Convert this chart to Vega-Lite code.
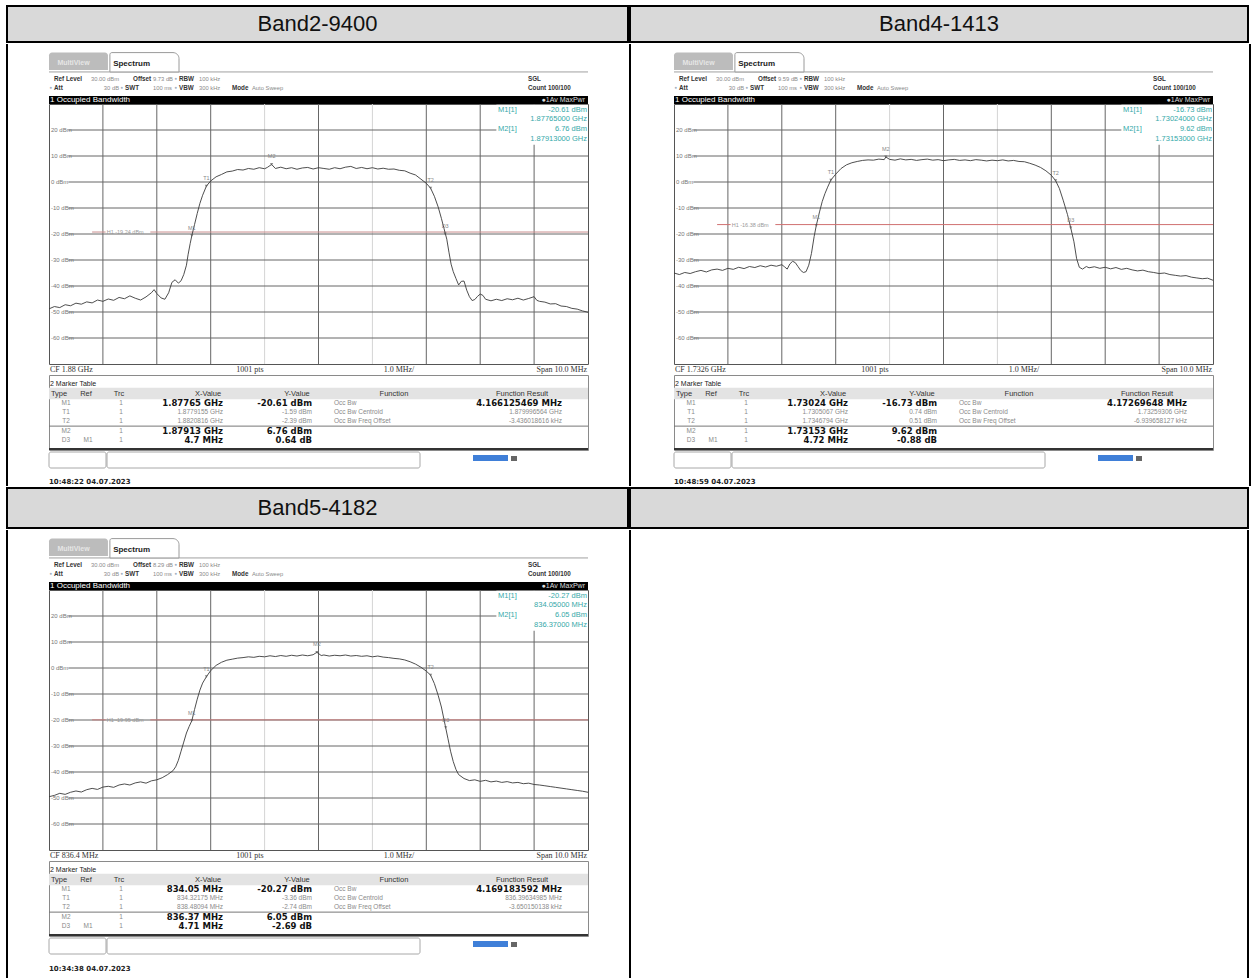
{
"$schema":"https://vega.github.io/schema/vega-lite/v6.json",
"background":"white",
"padding":{"left":6,"top":5,"right":0,"bottom":0},
"config":{"view":{"stroke":null},"concat":{"spacing":0},"text":{"font":"Liberation Sans"}},
"datasets":{
"lv":[{"lvl":20,"label":"20 dBm"},{"lvl":10,"label":"10 dBm"},{"lvl":0,"label":"0 dBm"},{"lvl":-10,"label":"-10 dBm"},{"lvl":-20,"label":"-20 dBm"},{"lvl":-30,"label":"-30 dBm"},{"lvl":-40,"label":"-40 dBm"},{"lvl":-50,"label":"-50 dBm"},{"lvl":-60,"label":"-60 dBm"}],
"xd":[{"d":-4},{"d":-3},{"d":-2},{"d":-1},{"d":0},{"d":1},{"d":2},{"d":3},{"d":4}],
"h1":[{"p":1,"level":-19.24,"label":"H1 -19.24 dBm"},{"p":2,"level":-16.38,"label":"H1 -16.38 dBm"},{"p":3,"level":-19.95,"label":"H1 -19.95 dBm"}],
"mk":[
{"p":1,"m":"M1","f":-2.35,"v":-20.61},{"p":1,"m":"T1","f":-2.08,"v":-1.59},{"p":1,"m":"T2","f":2.08,"v":-2.39},{"p":1,"m":"M2","f":-0.87,"v":6.76},{"p":1,"m":"D3","f":2.35,"v":-19.97},
{"p":2,"m":"M1","f":-2.36,"v":-16.73},{"p":2,"m":"T1","f":-2.09,"v":0.74},{"p":2,"m":"T2","f":2.08,"v":0.51},{"p":2,"m":"M2","f":-1.07,"v":9.62},{"p":2,"m":"D3","f":2.36,"v":-17.61},
{"p":3,"m":"M1","f":-2.35,"v":-20.27},{"p":3,"m":"T1","f":-2.08,"v":-3.36},{"p":3,"m":"T2","f":2.08,"v":-2.74},{"p":3,"m":"M2","f":-0.03,"v":6.05},{"p":3,"m":"D3","f":2.36,"v":-22.96}],
"info":[
{"p":1,"line":1,"name":"M1[1]","val":"-20.61 dBm"},{"p":1,"line":2,"name":"","val":"1.87765000 GHz"},{"p":1,"line":3,"name":"M2[1]","val":"6.76 dBm"},{"p":1,"line":4,"name":"","val":"1.87913000 GHz"},
{"p":2,"line":1,"name":"M1[1]","val":"-16.73 dBm"},{"p":2,"line":2,"name":"","val":"1.73024000 GHz"},{"p":2,"line":3,"name":"M2[1]","val":"9.62 dBm"},{"p":2,"line":4,"name":"","val":"1.73153000 GHz"},
{"p":3,"line":1,"name":"M1[1]","val":"-20.27 dBm"},{"p":3,"line":2,"name":"","val":"834.05000 MHz"},{"p":3,"line":3,"name":"M2[1]","val":"6.05 dBm"},{"p":3,"line":4,"name":"","val":"836.37000 MHz"}],
"set":[
{"p":0,"row":1,"slot":1,"kind":"label","text":"Ref Level"},
{"p":0,"row":1,"slot":2,"kind":"value","text":"30.00 dBm"},
{"p":0,"row":1,"slot":4,"kind":"label","text":"Offset"},
{"p":0,"row":1,"slot":6,"kind":"dot","text":"●"},
{"p":0,"row":1,"slot":6,"kind":"label","text":"RBW"},
{"p":0,"row":1,"slot":7,"kind":"value","text":"100 kHz"},
{"p":0,"row":1,"slot":10,"kind":"label","text":"SGL"},
{"p":0,"row":2,"slot":1,"kind":"dot","text":"●"},
{"p":0,"row":2,"slot":1,"kind":"label","text":"Att"},
{"p":0,"row":2,"slot":2,"kind":"value","text":"30 dB"},
{"p":0,"row":2,"slot":3,"kind":"dot","text":"●"},
{"p":0,"row":2,"slot":3,"kind":"label","text":"SWT"},
{"p":0,"row":2,"slot":5,"kind":"value","text":"100 ms"},
{"p":0,"row":2,"slot":6,"kind":"dot","text":"●"},
{"p":0,"row":2,"slot":6,"kind":"label","text":"VBW"},
{"p":0,"row":2,"slot":7,"kind":"value","text":"300 kHz"},
{"p":0,"row":2,"slot":8,"kind":"label","text":"Mode"},
{"p":0,"row":2,"slot":9,"kind":"value","text":"Auto Sweep"},
{"p":0,"row":2,"slot":10,"kind":"label","text":"Count 100/100"},
{"p":1,"row":1,"slot":5,"kind":"value","text":"9.73 dB"},
{"p":2,"row":1,"slot":5,"kind":"value","text":"9.59 dB"},
{"p":3,"row":1,"slot":5,"kind":"value","text":"8.29 dB"}],
"foot":[
{"p":1,"slot":1,"text":"CF 1.88 GHz"},{"p":2,"slot":1,"text":"CF 1.7326 GHz"},{"p":3,"slot":1,"text":"CF 836.4 MHz"},
{"p":0,"slot":2,"text":"1001 pts"},{"p":0,"slot":3,"text":"1.0 MHz/"},{"p":0,"slot":4,"text":"Span 10.0 MHz"}],
"tbl":[
{"p":0,"r":-1,"c":0,"text":"2 Marker Table"},
{"p":0,"r":0,"c":1,"text":"Type"},{"p":0,"r":0,"c":2,"text":"Ref"},{"p":0,"r":0,"c":3,"text":"Trc"},{"p":0,"r":0,"c":4,"text":"X-Value"},{"p":0,"r":0,"c":5,"text":"Y-Value"},{"p":0,"r":0,"c":6,"text":"Function"},{"p":0,"r":0,"c":7,"text":"Function Result"},
{"p":1,"r":1,"c":1,"text":"M1"},{"p":1,"r":1,"c":3,"text":"1"},{"p":1,"r":1,"c":4,"text":"1.87765 GHz"},{"p":1,"r":1,"c":5,"text":"-20.61 dBm"},{"p":1,"r":1,"c":6,"text":"Occ Bw"},{"p":1,"r":1,"c":7,"text":"4.166125469 MHz"},
{"p":1,"r":2,"c":1,"text":"T1"},{"p":1,"r":2,"c":3,"text":"1"},{"p":1,"r":2,"c":4,"text":"1.8779155 GHz"},{"p":1,"r":2,"c":5,"text":"-1.59 dBm"},{"p":1,"r":2,"c":6,"text":"Occ Bw Centroid"},{"p":1,"r":2,"c":7,"text":"1.879996564 GHz"},
{"p":1,"r":3,"c":1,"text":"T2"},{"p":1,"r":3,"c":3,"text":"1"},{"p":1,"r":3,"c":4,"text":"1.8820816 GHz"},{"p":1,"r":3,"c":5,"text":"-2.39 dBm"},{"p":1,"r":3,"c":6,"text":"Occ Bw Freq Offset"},{"p":1,"r":3,"c":7,"text":"-3.436018616 kHz"},
{"p":1,"r":4,"c":1,"text":"M2"},{"p":1,"r":4,"c":3,"text":"1"},{"p":1,"r":4,"c":4,"text":"1.87913 GHz"},{"p":1,"r":4,"c":5,"text":"6.76 dBm"},
{"p":1,"r":5,"c":1,"text":"D3"},{"p":1,"r":5,"c":2,"text":"M1"},{"p":1,"r":5,"c":3,"text":"1"},{"p":1,"r":5,"c":4,"text":"4.7 MHz"},{"p":1,"r":5,"c":5,"text":"0.64 dB"},
{"p":2,"r":1,"c":1,"text":"M1"},{"p":2,"r":1,"c":3,"text":"1"},{"p":2,"r":1,"c":4,"text":"1.73024 GHz"},{"p":2,"r":1,"c":5,"text":"-16.73 dBm"},{"p":2,"r":1,"c":6,"text":"Occ Bw"},{"p":2,"r":1,"c":7,"text":"4.17269648 MHz"},
{"p":2,"r":2,"c":1,"text":"T1"},{"p":2,"r":2,"c":3,"text":"1"},{"p":2,"r":2,"c":4,"text":"1.7305067 GHz"},{"p":2,"r":2,"c":5,"text":"0.74 dBm"},{"p":2,"r":2,"c":6,"text":"Occ Bw Centroid"},{"p":2,"r":2,"c":7,"text":"1.73259306 GHz"},
{"p":2,"r":3,"c":1,"text":"T2"},{"p":2,"r":3,"c":3,"text":"1"},{"p":2,"r":3,"c":4,"text":"1.7346794 GHz"},{"p":2,"r":3,"c":5,"text":"0.51 dBm"},{"p":2,"r":3,"c":6,"text":"Occ Bw Freq Offset"},{"p":2,"r":3,"c":7,"text":"-6.939658127 kHz"},
{"p":2,"r":4,"c":1,"text":"M2"},{"p":2,"r":4,"c":3,"text":"1"},{"p":2,"r":4,"c":4,"text":"1.73153 GHz"},{"p":2,"r":4,"c":5,"text":"9.62 dBm"},
{"p":2,"r":5,"c":1,"text":"D3"},{"p":2,"r":5,"c":2,"text":"M1"},{"p":2,"r":5,"c":3,"text":"1"},{"p":2,"r":5,"c":4,"text":"4.72 MHz"},{"p":2,"r":5,"c":5,"text":"-0.88 dB"},
{"p":3,"r":1,"c":1,"text":"M1"},{"p":3,"r":1,"c":3,"text":"1"},{"p":3,"r":1,"c":4,"text":"834.05 MHz"},{"p":3,"r":1,"c":5,"text":"-20.27 dBm"},{"p":3,"r":1,"c":6,"text":"Occ Bw"},{"p":3,"r":1,"c":7,"text":"4.169183592 MHz"},
{"p":3,"r":2,"c":1,"text":"T1"},{"p":3,"r":2,"c":3,"text":"1"},{"p":3,"r":2,"c":4,"text":"834.32175 MHz"},{"p":3,"r":2,"c":5,"text":"-3.36 dBm"},{"p":3,"r":2,"c":6,"text":"Occ Bw Centroid"},{"p":3,"r":2,"c":7,"text":"836.39634985 MHz"},
{"p":3,"r":3,"c":1,"text":"T2"},{"p":3,"r":3,"c":3,"text":"1"},{"p":3,"r":3,"c":4,"text":"838.48094 MHz"},{"p":3,"r":3,"c":5,"text":"-2.74 dBm"},{"p":3,"r":3,"c":6,"text":"Occ Bw Freq Offset"},{"p":3,"r":3,"c":7,"text":"-3.650150138 kHz"},
{"p":3,"r":4,"c":1,"text":"M2"},{"p":3,"r":4,"c":3,"text":"1"},{"p":3,"r":4,"c":4,"text":"836.37 MHz"},{"p":3,"r":4,"c":5,"text":"6.05 dBm"},
{"p":3,"r":5,"c":1,"text":"D3"},{"p":3,"r":5,"c":2,"text":"M1"},{"p":3,"r":5,"c":3,"text":"1"},{"p":3,"r":5,"c":4,"text":"4.71 MHz"},{"p":3,"r":5,"c":5,"text":"-2.69 dB"}],
"ts":[{"p":1,"text":"10:48:22  04.07.2023"},{"p":2,"text":"10:48:59  04.07.2023"},{"p":3,"text":"10:34:38  04.07.2023"}],
"trace":[
{"p":1,"f":-5.0,"v":-48.8},{"p":1,"f":-4.9,"v":-47.9},{"p":1,"f":-4.8,"v":-48.3},{"p":1,"f":-4.7,"v":-47.2},{"p":1,"f":-4.6,"v":-47.6},{"p":1,"f":-4.5,"v":-46.6},{"p":1,"f":-4.4,"v":-47.0},{"p":1,"f":-4.3,"v":-46.1},{"p":1,"f":-4.2,"v":-46.5},{"p":1,"f":-4.1,"v":-45.4},{"p":1,"f":-4.0,"v":-45.9},{"p":1,"f":-3.9,"v":-45.0},{"p":1,"f":-3.8,"v":-45.5},{"p":1,"f":-3.7,"v":-44.4},{"p":1,"f":-3.6,"v":-44.9},{"p":1,"f":-3.5,"v":-43.8},{"p":1,"f":-3.4,"v":-44.7},{"p":1,"f":-3.3,"v":-45.4},{"p":1,"f":-3.2,"v":-44.2},{"p":1,"f":-3.1,"v":-42.6},{"p":1,"f":-3.05,"v":-41.4},{"p":1,"f":-3.0,"v":-42.9},{"p":1,"f":-2.92,"v":-44.6},{"p":1,"f":-2.85,"v":-45.1},{"p":1,"f":-2.78,"v":-42.6},{"p":1,"f":-2.72,"v":-38.6},{"p":1,"f":-2.66,"v":-37.6},{"p":1,"f":-2.6,"v":-38.9},{"p":1,"f":-2.55,"v":-38.0},{"p":1,"f":-2.5,"v":-35.6},{"p":1,"f":-2.45,"v":-32.0},{"p":1,"f":-2.42,"v":-28.0},{"p":1,"f":-2.38,"v":-23.6},{"p":1,"f":-2.35,"v":-20.61},{"p":1,"f":-2.3,"v":-16.4},{"p":1,"f":-2.25,"v":-12.1},{"p":1,"f":-2.2,"v":-8.2},{"p":1,"f":-2.15,"v":-5.1},{"p":1,"f":-2.08,"v":-1.59},{"p":1,"f":-2.0,"v":0.4},{"p":1,"f":-1.9,"v":2.0},{"p":1,"f":-1.8,"v":2.9},{"p":1,"f":-1.7,"v":3.9},{"p":1,"f":-1.6,"v":4.2},{"p":1,"f":-1.5,"v":4.8},{"p":1,"f":-1.4,"v":4.6},{"p":1,"f":-1.3,"v":5.2},{"p":1,"f":-1.2,"v":4.9},{"p":1,"f":-1.1,"v":5.5},{"p":1,"f":-1.0,"v":5.1},{"p":1,"f":-0.95,"v":5.6},{"p":1,"f":-0.87,"v":6.76},{"p":1,"f":-0.8,"v":5.2},{"p":1,"f":-0.7,"v":5.7},{"p":1,"f":-0.6,"v":5.1},{"p":1,"f":-0.5,"v":5.5},{"p":1,"f":-0.4,"v":4.9},{"p":1,"f":-0.3,"v":5.4},{"p":1,"f":-0.2,"v":5.6},{"p":1,"f":-0.1,"v":5.0},{"p":1,"f":0.0,"v":5.5},{"p":1,"f":0.1,"v":5.2},{"p":1,"f":0.2,"v":4.9},{"p":1,"f":0.3,"v":5.5},{"p":1,"f":0.4,"v":5.1},{"p":1,"f":0.5,"v":5.7},{"p":1,"f":0.6,"v":6.0},{"p":1,"f":0.7,"v":5.2},{"p":1,"f":0.8,"v":5.6},{"p":1,"f":0.9,"v":5.1},{"p":1,"f":1.0,"v":5.5},{"p":1,"f":1.1,"v":5.0},{"p":1,"f":1.2,"v":5.3},{"p":1,"f":1.3,"v":4.9},{"p":1,"f":1.4,"v":5.0},{"p":1,"f":1.5,"v":4.5},{"p":1,"f":1.6,"v":4.3},{"p":1,"f":1.7,"v":3.4},{"p":1,"f":1.8,"v":2.7},{"p":1,"f":1.9,"v":1.1},{"p":1,"f":2.0,"v":-0.5},{"p":1,"f":2.08,"v":-2.39},{"p":1,"f":2.15,"v":-5.5},{"p":1,"f":2.22,"v":-9.6},{"p":1,"f":2.28,"v":-14.0},{"p":1,"f":2.33,"v":-18.0},{"p":1,"f":2.38,"v":-22.0},{"p":1,"f":2.42,"v":-27.0},{"p":1,"f":2.46,"v":-31.6},{"p":1,"f":2.5,"v":-34.5},{"p":1,"f":2.55,"v":-37.1},{"p":1,"f":2.6,"v":-39.6},{"p":1,"f":2.65,"v":-38.2},{"p":1,"f":2.7,"v":-38.1},{"p":1,"f":2.75,"v":-41.6},{"p":1,"f":2.8,"v":-44.1},{"p":1,"f":2.85,"v":-45.6},{"p":1,"f":2.9,"v":-45.2},{"p":1,"f":2.95,"v":-44.0},{"p":1,"f":3.0,"v":-43.1},{"p":1,"f":3.05,"v":-43.6},{"p":1,"f":3.1,"v":-45.1},{"p":1,"f":3.2,"v":-45.7},{"p":1,"f":3.3,"v":-45.1},{"p":1,"f":3.4,"v":-45.6},{"p":1,"f":3.5,"v":-44.9},{"p":1,"f":3.6,"v":-45.3},{"p":1,"f":3.7,"v":-44.7},{"p":1,"f":3.8,"v":-45.4},{"p":1,"f":3.9,"v":-44.8},{"p":1,"f":4.0,"v":-44.1},{"p":1,"f":4.05,"v":-45.5},{"p":1,"f":4.1,"v":-45.9},{"p":1,"f":4.2,"v":-46.2},{"p":1,"f":4.3,"v":-46.9},{"p":1,"f":4.4,"v":-46.8},{"p":1,"f":4.5,"v":-47.7},{"p":1,"f":4.6,"v":-47.9},{"p":1,"f":4.7,"v":-48.6},{"p":1,"f":4.8,"v":-48.9},{"p":1,"f":4.9,"v":-49.6},{"p":1,"f":5.0,"v":-50.1},
{"p":2,"f":-5.0,"v":-35.0},{"p":2,"f":-4.9,"v":-35.6},{"p":2,"f":-4.8,"v":-34.8},{"p":2,"f":-4.7,"v":-35.2},{"p":2,"f":-4.6,"v":-34.5},{"p":2,"f":-4.5,"v":-34.0},{"p":2,"f":-4.4,"v":-34.6},{"p":2,"f":-4.3,"v":-33.8},{"p":2,"f":-4.2,"v":-33.5},{"p":2,"f":-4.1,"v":-34.0},{"p":2,"f":-4.0,"v":-33.2},{"p":2,"f":-3.9,"v":-33.6},{"p":2,"f":-3.8,"v":-32.8},{"p":2,"f":-3.7,"v":-33.3},{"p":2,"f":-3.6,"v":-32.5},{"p":2,"f":-3.5,"v":-32.9},{"p":2,"f":-3.4,"v":-32.2},{"p":2,"f":-3.3,"v":-32.7},{"p":2,"f":-3.2,"v":-32.0},{"p":2,"f":-3.1,"v":-32.4},{"p":2,"f":-3.0,"v":-31.8},{"p":2,"f":-2.95,"v":-32.6},{"p":2,"f":-2.9,"v":-33.5},{"p":2,"f":-2.85,"v":-31.5},{"p":2,"f":-2.8,"v":-30.5},{"p":2,"f":-2.75,"v":-31.0},{"p":2,"f":-2.7,"v":-32.5},{"p":2,"f":-2.65,"v":-34.0},{"p":2,"f":-2.6,"v":-34.8},{"p":2,"f":-2.55,"v":-34.5},{"p":2,"f":-2.5,"v":-32.0},{"p":2,"f":-2.45,"v":-27.5},{"p":2,"f":-2.4,"v":-21.0},{"p":2,"f":-2.36,"v":-16.73},{"p":2,"f":-2.3,"v":-11.5},{"p":2,"f":-2.25,"v":-7.5},{"p":2,"f":-2.2,"v":-4.5},{"p":2,"f":-2.15,"v":-2.0},{"p":2,"f":-2.09,"v":0.74},{"p":2,"f":-2.0,"v":3.0},{"p":2,"f":-1.9,"v":5.2},{"p":2,"f":-1.8,"v":6.6},{"p":2,"f":-1.7,"v":7.4},{"p":2,"f":-1.6,"v":7.9},{"p":2,"f":-1.5,"v":8.3},{"p":2,"f":-1.4,"v":8.5},{"p":2,"f":-1.3,"v":8.4},{"p":2,"f":-1.2,"v":8.8},{"p":2,"f":-1.1,"v":8.6},{"p":2,"f":-1.07,"v":9.62},{"p":2,"f":-1.0,"v":8.7},{"p":2,"f":-0.9,"v":8.4},{"p":2,"f":-0.8,"v":8.9},{"p":2,"f":-0.7,"v":8.5},{"p":2,"f":-0.6,"v":8.7},{"p":2,"f":-0.5,"v":8.3},{"p":2,"f":-0.4,"v":8.6},{"p":2,"f":-0.3,"v":8.8},{"p":2,"f":-0.2,"v":8.4},{"p":2,"f":-0.1,"v":8.6},{"p":2,"f":0.0,"v":8.2},{"p":2,"f":0.1,"v":8.5},{"p":2,"f":0.2,"v":8.7},{"p":2,"f":0.3,"v":8.3},{"p":2,"f":0.4,"v":8.5},{"p":2,"f":0.5,"v":8.2},{"p":2,"f":0.6,"v":8.6},{"p":2,"f":0.7,"v":8.4},{"p":2,"f":0.8,"v":8.1},{"p":2,"f":0.9,"v":8.4},{"p":2,"f":1.0,"v":8.2},{"p":2,"f":1.1,"v":8.5},{"p":2,"f":1.2,"v":8.1},{"p":2,"f":1.3,"v":8.3},{"p":2,"f":1.4,"v":7.9},{"p":2,"f":1.5,"v":7.8},{"p":2,"f":1.6,"v":7.2},{"p":2,"f":1.7,"v":6.5},{"p":2,"f":1.8,"v":5.6},{"p":2,"f":1.9,"v":4.3},{"p":2,"f":2.0,"v":2.6},{"p":2,"f":2.08,"v":0.51},{"p":2,"f":2.15,"v":-2.5},{"p":2,"f":2.22,"v":-7.0},{"p":2,"f":2.3,"v":-12.5},{"p":2,"f":2.36,"v":-17.6},{"p":2,"f":2.42,"v":-23.0},{"p":2,"f":2.47,"v":-29.5},{"p":2,"f":2.52,"v":-32.8},{"p":2,"f":2.58,"v":-33.5},{"p":2,"f":2.65,"v":-32.5},{"p":2,"f":2.7,"v":-33.0},{"p":2,"f":2.8,"v":-32.6},{"p":2,"f":2.9,"v":-33.2},{"p":2,"f":3.0,"v":-32.8},{"p":2,"f":3.1,"v":-33.4},{"p":2,"f":3.2,"v":-32.9},{"p":2,"f":3.3,"v":-33.6},{"p":2,"f":3.4,"v":-33.2},{"p":2,"f":3.5,"v":-33.8},{"p":2,"f":3.6,"v":-34.2},{"p":2,"f":3.7,"v":-33.9},{"p":2,"f":3.8,"v":-34.5},{"p":2,"f":3.9,"v":-34.8},{"p":2,"f":4.0,"v":-35.2},{"p":2,"f":4.1,"v":-35.0},{"p":2,"f":4.2,"v":-35.6},{"p":2,"f":4.3,"v":-35.9},{"p":2,"f":4.4,"v":-36.2},{"p":2,"f":4.5,"v":-36.0},{"p":2,"f":4.6,"v":-36.6},{"p":2,"f":4.7,"v":-36.9},{"p":2,"f":4.8,"v":-37.2},{"p":2,"f":4.9,"v":-37.0},{"p":2,"f":5.0,"v":-37.8},
{"p":3,"f":-5.0,"v":-49.5},{"p":3,"f":-4.9,"v":-49.0},{"p":3,"f":-4.8,"v":-48.2},{"p":3,"f":-4.7,"v":-48.6},{"p":3,"f":-4.6,"v":-47.8},{"p":3,"f":-4.5,"v":-47.3},{"p":3,"f":-4.4,"v":-47.7},{"p":3,"f":-4.3,"v":-46.8},{"p":3,"f":-4.2,"v":-46.3},{"p":3,"f":-4.1,"v":-46.7},{"p":3,"f":-4.0,"v":-45.8},{"p":3,"f":-3.9,"v":-45.5},{"p":3,"f":-3.8,"v":-45.9},{"p":3,"f":-3.7,"v":-45.0},{"p":3,"f":-3.6,"v":-44.6},{"p":3,"f":-3.5,"v":-45.0},{"p":3,"f":-3.4,"v":-44.2},{"p":3,"f":-3.3,"v":-43.8},{"p":3,"f":-3.2,"v":-44.3},{"p":3,"f":-3.1,"v":-43.4},{"p":3,"f":-3.0,"v":-43.0},{"p":3,"f":-2.9,"v":-42.2},{"p":3,"f":-2.8,"v":-41.0},{"p":3,"f":-2.7,"v":-39.5},{"p":3,"f":-2.65,"v":-38.0},{"p":3,"f":-2.6,"v":-35.5},{"p":3,"f":-2.55,"v":-32.0},{"p":3,"f":-2.5,"v":-28.5},{"p":3,"f":-2.45,"v":-25.0},{"p":3,"f":-2.4,"v":-22.5},{"p":3,"f":-2.35,"v":-20.27},{"p":3,"f":-2.3,"v":-16.0},{"p":3,"f":-2.25,"v":-12.0},{"p":3,"f":-2.2,"v":-8.5},{"p":3,"f":-2.15,"v":-5.8},{"p":3,"f":-2.08,"v":-3.36},{"p":3,"f":-2.0,"v":-1.0},{"p":3,"f":-1.9,"v":1.0},{"p":3,"f":-1.8,"v":2.2},{"p":3,"f":-1.7,"v":3.0},{"p":3,"f":-1.6,"v":3.4},{"p":3,"f":-1.5,"v":3.8},{"p":3,"f":-1.4,"v":4.0},{"p":3,"f":-1.3,"v":4.3},{"p":3,"f":-1.2,"v":4.1},{"p":3,"f":-1.1,"v":4.5},{"p":3,"f":-1.0,"v":4.3},{"p":3,"f":-0.9,"v":4.7},{"p":3,"f":-0.8,"v":4.4},{"p":3,"f":-0.7,"v":4.8},{"p":3,"f":-0.6,"v":4.5},{"p":3,"f":-0.5,"v":4.9},{"p":3,"f":-0.4,"v":4.6},{"p":3,"f":-0.3,"v":5.0},{"p":3,"f":-0.2,"v":4.7},{"p":3,"f":-0.1,"v":5.1},{"p":3,"f":-0.03,"v":6.05},{"p":3,"f":0.05,"v":4.8},{"p":3,"f":0.1,"v":5.0},{"p":3,"f":0.2,"v":4.6},{"p":3,"f":0.3,"v":4.9},{"p":3,"f":0.4,"v":4.7},{"p":3,"f":0.5,"v":5.0},{"p":3,"f":0.6,"v":4.6},{"p":3,"f":0.7,"v":4.8},{"p":3,"f":0.8,"v":4.5},{"p":3,"f":0.9,"v":4.7},{"p":3,"f":1.0,"v":4.3},{"p":3,"f":1.1,"v":4.6},{"p":3,"f":1.2,"v":4.2},{"p":3,"f":1.3,"v":4.0},{"p":3,"f":1.4,"v":3.7},{"p":3,"f":1.5,"v":3.5},{"p":3,"f":1.6,"v":3.1},{"p":3,"f":1.7,"v":2.4},{"p":3,"f":1.8,"v":1.5},{"p":3,"f":1.9,"v":0.3},{"p":3,"f":2.0,"v":-1.2},{"p":3,"f":2.08,"v":-2.74},{"p":3,"f":2.15,"v":-6.0},{"p":3,"f":2.22,"v":-10.5},{"p":3,"f":2.28,"v":-15.0},{"p":3,"f":2.35,"v":-22.0},{"p":3,"f":2.4,"v":-27.0},{"p":3,"f":2.45,"v":-32.0},{"p":3,"f":2.5,"v":-36.0},{"p":3,"f":2.55,"v":-39.0},{"p":3,"f":2.6,"v":-41.0},{"p":3,"f":2.7,"v":-42.5},{"p":3,"f":2.8,"v":-43.3},{"p":3,"f":2.9,"v":-43.0},{"p":3,"f":3.0,"v":-43.6},{"p":3,"f":3.1,"v":-43.2},{"p":3,"f":3.2,"v":-43.8},{"p":3,"f":3.3,"v":-43.5},{"p":3,"f":3.4,"v":-44.0},{"p":3,"f":3.5,"v":-43.7},{"p":3,"f":3.6,"v":-44.2},{"p":3,"f":3.7,"v":-44.0},{"p":3,"f":3.8,"v":-44.5},{"p":3,"f":3.9,"v":-44.3},{"p":3,"f":4.0,"v":-44.8},{"p":3,"f":4.1,"v":-45.0},{"p":3,"f":4.2,"v":-45.3},{"p":3,"f":4.3,"v":-45.6},{"p":3,"f":4.4,"v":-45.9},{"p":3,"f":4.5,"v":-46.2},{"p":3,"f":4.6,"v":-46.5},{"p":3,"f":4.7,"v":-46.8},{"p":3,"f":4.8,"v":-47.1},{"p":3,"f":4.9,"v":-47.4},{"p":3,"f":5.0,"v":-47.8}]
},
"spacing":0,
"vconcat":[
{"spacing":0,"hconcat":[
{"spacing":0,"vconcat":[
 {"width":621,"height":36,"view":{"fill":"#d9d9d9","stroke":"#000","strokeWidth":2},"data":{"values":[{"t":"Band2-9400"}]},"mark":{"type":"text","fontSize":22,"color":"#111","baseline":"middle","align":"center"},"encoding":{"text":{"field":"t","type":"nominal"}}},
 {"spacing":0,"hconcat":[
  {"width":39,"height":442,"data":{"values":[{}]},"mark":{"type":"rule","color":"#000","strokeWidth":2},"encoding":{"x":{"datum":0,"type":"quantitative","scale":{"domain":[0,1]},"axis":null}}},
  {"spacing":0,"bounds":"flush","vconcat":[
   {"width":539,"height":52,"layer":[
    {"data":{"values":[{}]},"mark":{"type":"rule","color":"#a0a0a0","strokeWidth":1},"encoding":{"x":{"datum":0,"type":"quantitative","scale":{"domain":[0,1,2,3,4,5,6,7,8,9,10,11],"range":[0,5,70,76,84,104,130,150,183,203,479,539],"nice":false,"zero":false},"axis":null},"x2":{"datum":11},"y":{"datum":0.53,"type":"quantitative","scale":{"domain":[-1,0,1,2,3],"range":[0,20,35,44,52],"nice":false,"zero":false},"axis":null}}},
    {"data":{"values":[{}]},"mark":{"type":"rect","fill":"#bcbcbc","cornerRadiusTopLeft":3,"cornerRadiusTopRight":3},"encoding":{"x":{"datum":0},"x2":{"datum":1.83},"y":{"datum":-0.57},"y2":{"datum":0.4}}},
    {"data":{"values":[{"t":"MultiView"}]},"mark":{"type":"text","color":"#e6e6e6","fontSize":7,"fontWeight":"bold","baseline":"middle"},"encoding":{"x":{"datum":1.3},"y":{"datum":-0.05},"text":{"field":"t"}}},
    {"data":{"values":[{}]},"mark":{"type":"rect","fill":"#fff","stroke":"#9a9a9a","strokeWidth":1,"cornerRadiusTopLeft":2,"cornerRadiusTopRight":6},"encoding":{"x":{"datum":1.86},"x2":{"datum":6.0},"y":{"datum":-0.57},"y2":{"datum":0.53}}},
    {"data":{"values":[{"t":"Spectrum"}]},"mark":{"type":"text","align":"left","baseline":"middle","fontSize":8,"fontWeight":"bold","color":"#222"},"encoding":{"x":{"datum":1.91},"y":{"datum":0},"text":{"field":"t"}}},
    {"data":{"name":"set"},"transform":[{"filter":"(datum.p == 0 || datum.p == 1) && datum.kind == 'label'"}],"mark":{"type":"text","align":"left","baseline":"middle","fontSize":6.3,"fontWeight":"bold","color":"#333"},"encoding":{"x":{"field":"slot","type":"quantitative"},"y":{"field":"row","type":"quantitative"},"text":{"field":"text"}}},
    {"data":{"name":"set"},"transform":[{"filter":"(datum.p == 0 || datum.p == 1) && datum.kind == 'value' && datum.slot != 2"}],"mark":{"type":"text","align":"left","baseline":"middle","fontSize":5.8,"color":"#8a8a8a"},"encoding":{"x":{"field":"slot","type":"quantitative"},"y":{"field":"row","type":"quantitative"},"text":{"field":"text"}}},
    {"data":{"name":"set"},"transform":[{"filter":"(datum.p == 0 || datum.p == 1) && datum.kind == 'value' && datum.slot == 2"}],"mark":{"type":"text","align":"right","baseline":"middle","fontSize":5.8,"color":"#8a8a8a"},"encoding":{"x":{"field":"slot","type":"quantitative"},"y":{"field":"row","type":"quantitative"},"text":{"field":"text"}}},
    {"data":{"name":"set"},"transform":[{"filter":"(datum.p == 0 || datum.p == 1) && datum.kind == 'dot'"}],"mark":{"type":"text","align":"left","baseline":"middle","fontSize":4.5,"color":"#9fb0c0","dx":-4.5},"encoding":{"x":{"field":"slot","type":"quantitative"},"y":{"field":"row","type":"quantitative"},"text":{"field":"text"}}}
   ]},
   {"width":539,"height":8,"view":{"fill":"#000"},"data":{"values":[{"l":"1 Occupied Bandwidth","r":"●1Av MaxPwr"}]},"layer":[
    {"mark":{"type":"text","align":"left","baseline":"middle","fontSize":8,"color":"#fff","dx":1},"encoding":{"x":{"datum":0,"type":"quantitative","scale":{"domain":[0,1]},"axis":null},"text":{"field":"l"}}},
    {"mark":{"type":"text","align":"right","baseline":"middle","fontSize":7,"color":"#ddd","dx":-3},"encoding":{"x":{"datum":1},"text":{"field":"r"}}}
   ]},
   {"width":539,"height":260,"view":{"stroke":"#555","strokeWidth":1},"resolve":{"scale":{"y":"independent"}},"layer":[
    {"layer":[
     {"data":{"name":"xd"},"transform":[{"filter":"abs(datum.d) != 1"}],"mark":{"type":"rule","color":"#666","strokeWidth":1},"encoding":{"x":{"field":"d","type":"quantitative","scale":{"domain":[-5,5],"nice":false,"zero":false},"axis":null}}},
     {"data":{"name":"xd"},"transform":[{"filter":"abs(datum.d) == 1"}],"mark":{"type":"rule","color":"#d4d4d4","strokeWidth":1},"encoding":{"x":{"field":"d","type":"quantitative"}}},
     {"data":{"name":"lv"},"mark":{"type":"rule","color":"#666","strokeWidth":1},"encoding":{"y":{"field":"lvl","type":"quantitative","scale":{"domain":[-70,30],"nice":false,"zero":false},"axis":null},"x":{"datum":-4.64},"x2":{"datum":5}}},
     {"data":{"name":"lv"},"mark":{"type":"text","align":"left","baseline":"middle","dx":2,"fontSize":6,"color":"#777"},"encoding":{"x":{"datum":-5},"y":{"field":"lvl","type":"quantitative"},"text":{"field":"label"}}},
     {"data":{"name":"h1"},"transform":[{"filter":"datum.p == 1"}],"mark":{"type":"rule","color":"#c98d8d","strokeWidth":1},"encoding":{"y":{"field":"level","type":"quantitative"},"x":{"datum":-4.2},"x2":{"datum":-3.95}}},
     {"data":{"name":"h1"},"transform":[{"filter":"datum.p == 1"}],"mark":{"type":"rule","color":"#c98d8d","strokeWidth":1},"encoding":{"y":{"field":"level","type":"quantitative"},"x":{"datum":-3.12},"x2":{"datum":5}}},
     {"data":{"name":"h1"},"transform":[{"filter":"datum.p == 1"}],"mark":{"type":"text","align":"left","baseline":"middle","fontSize":5.5,"color":"#999"},"encoding":{"y":{"field":"level","type":"quantitative"},"x":{"datum":-3.93},"text":{"field":"label"}}},
     {"data":{"name":"trace"},"transform":[{"filter":"datum.p == 1"}],"mark":{"type":"line","color":"#3a3a3a","strokeWidth":0.9},"encoding":{"x":{"field":"f","type":"quantitative"},"y":{"field":"v","type":"quantitative"}}},
     {"data":{"name":"mk"},"transform":[{"filter":"datum.p == 1"}],"mark":{"type":"point","shape":"triangle-down","size":10,"filled":true,"color":"#555"},"encoding":{"x":{"field":"f","type":"quantitative"},"y":{"field":"v","type":"quantitative"}}},
     {"data":{"name":"mk"},"transform":[{"filter":"datum.p == 1"}],"mark":{"type":"text","dy":-8,"fontSize":5.5,"color":"#888"},"encoding":{"x":{"field":"f","type":"quantitative"},"y":{"field":"v","type":"quantitative"},"text":{"field":"m"}}},
     {"data":{"values":[{}]},"mark":{"type":"rect","fill":"#fff"},"encoding":{"x":{"datum":3.3},"x2":{"datum":5},"y":{"datum":29.7},"y2":{"datum":14.3}}}
    ]},
    {"data":{"name":"info"},"transform":[{"filter":"datum.p == 1"}],"layer":[
     {"mark":{"type":"text","align":"left","baseline":"middle","fontSize":7.5,"color":"#35a9a9"},"encoding":{"x":{"datum":3.33},"y":{"field":"line","type":"quantitative","scale":{"domain":[0.4,27.4],"reverse":true,"nice":false,"zero":false},"axis":null},"text":{"field":"name"}}},
     {"mark":{"type":"text","align":"right","baseline":"middle","dx":-1,"fontSize":7.5,"color":"#35a9a9"},"encoding":{"x":{"datum":5},"y":{"field":"line","type":"quantitative"},"text":{"field":"val"}}}
    ]}
   ]},
   {"width":539,"height":11,"data":{"name":"foot"},"transform":[{"filter":"datum.p == 0 || datum.p == 1"}],"encoding":{"x":{"field":"slot","type":"quantitative","scale":{"domain":[1,2,3,4],"range":[1,201,350,538],"nice":false,"zero":false},"axis":null},"text":{"field":"text"}},"layer":[
    {"transform":[{"filter":"datum.slot == 1"}],"mark":{"type":"text","align":"left","baseline":"middle","font":"Liberation Serif","fontSize":8,"color":"#333"}},
    {"transform":[{"filter":"datum.slot == 2 || datum.slot == 3"}],"mark":{"type":"text","align":"center","baseline":"middle","font":"Liberation Serif","fontSize":8,"color":"#333"}},
    {"transform":[{"filter":"datum.slot == 4"}],"mark":{"type":"text","align":"right","baseline":"middle","font":"Liberation Serif","fontSize":8,"color":"#333"}}
   ]},
   {"width":539,"height":75,"view":{"stroke":"#8a8a8a","strokeWidth":1},"layer":[
    {"data":{"values":[{}]},"mark":{"type":"rect","fill":"#e3e3e3"},"encoding":{"x":{"datum":0,"type":"quantitative","scale":{"domain":[0,1,2,3,4,5,6,7,8],"range":[0,17,39,72,174,263,285,513,539],"nice":false,"zero":false},"axis":null},"x2":{"datum":8},"y":{"datum":-0.62,"type":"quantitative","scale":{"domain":[-2,6.1],"range":[0,75],"nice":false,"zero":false},"axis":null},"y2":{"datum":0.62}}},
    {"data":{"values":[{}]},"mark":{"type":"rule","color":"#777","strokeWidth":1},"encoding":{"x":{"datum":0},"x2":{"datum":8},"y":{"datum":3.52}}},
    {"data":{"values":[{}]},"mark":{"type":"rule","color":"#333","strokeWidth":2},"encoding":{"x":{"datum":0},"x2":{"datum":8},"y":{"datum":6.0}}},
    {"data":{"name":"tbl"},"transform":[{"filter":"datum.r == -1"}],"mark":{"type":"text","align":"left","baseline":"middle","dx":1,"fontSize":7,"color":"#222"},"encoding":{"x":{"field":"c","type":"quantitative"},"y":{"field":"r","type":"quantitative"},"text":{"field":"text"}}},
    {"data":{"name":"tbl"},"transform":[{"filter":"datum.r == 0 && datum.c == 1"}],"mark":{"type":"text","align":"center","baseline":"middle","dx":-7,"fontSize":7.5,"color":"#333"},"encoding":{"x":{"field":"c","type":"quantitative"},"y":{"field":"r","type":"quantitative"},"text":{"field":"text"}}},
    {"data":{"name":"tbl"},"transform":[{"filter":"datum.r == 0 && (datum.c == 2 || datum.c == 3)"}],"mark":{"type":"text","align":"center","baseline":"middle","dx":-2,"fontSize":7.5,"color":"#333"},"encoding":{"x":{"field":"c","type":"quantitative"},"y":{"field":"r","type":"quantitative"},"text":{"field":"text"}}},
    {"data":{"name":"tbl"},"transform":[{"filter":"datum.r == 0 && (datum.c == 4 || datum.c == 5)"}],"mark":{"type":"text","align":"center","baseline":"middle","dx":-15,"fontSize":7.5,"color":"#333"},"encoding":{"x":{"field":"c","type":"quantitative"},"y":{"field":"r","type":"quantitative"},"text":{"field":"text"}}},
    {"data":{"name":"tbl"},"transform":[{"filter":"datum.r == 0 && datum.c == 6"}],"mark":{"type":"text","align":"center","baseline":"middle","dx":60,"fontSize":7.5,"color":"#333"},"encoding":{"x":{"field":"c","type":"quantitative"},"y":{"field":"r","type":"quantitative"},"text":{"field":"text"}}},
    {"data":{"name":"tbl"},"transform":[{"filter":"datum.r == 0 && datum.c == 7"}],"mark":{"type":"text","align":"center","baseline":"middle","dx":-40,"fontSize":7.5,"color":"#333"},"encoding":{"x":{"field":"c","type":"quantitative"},"y":{"field":"r","type":"quantitative"},"text":{"field":"text"}}},
    {"data":{"name":"tbl"},"transform":[{"filter":"datum.p == 1 && datum.r >= 1 && datum.c <= 3"}],"mark":{"type":"text","align":"center","baseline":"middle","fontSize":6.5,"color":"#8a8a8a"},"encoding":{"x":{"field":"c","type":"quantitative"},"y":{"field":"r","type":"quantitative"},"text":{"field":"text"}}},
    {"data":{"name":"tbl"},"transform":[{"filter":"datum.p == 1 && datum.r >= 1 && datum.c == 6"}],"mark":{"type":"text","align":"left","baseline":"middle","fontSize":6.5,"color":"#8a8a8a"},"encoding":{"x":{"field":"c","type":"quantitative"},"y":{"field":"r","type":"quantitative"},"text":{"field":"text"}}},
    {"data":{"name":"tbl"},"transform":[{"filter":"datum.p == 1 && (datum.r == 2 || datum.r == 3) && (datum.c == 4 || datum.c == 5 || datum.c == 7)"}],"mark":{"type":"text","align":"right","baseline":"middle","fontSize":6.5,"color":"#8a8a8a"},"encoding":{"x":{"field":"c","type":"quantitative"},"y":{"field":"r","type":"quantitative"},"text":{"field":"text"}}},
    {"data":{"name":"tbl"},"transform":[{"filter":"datum.p == 1 && ((datum.r == 1 && (datum.c == 4 || datum.c == 5 || datum.c == 7)) || ((datum.r == 4 || datum.r == 5) && (datum.c == 4 || datum.c == 5)))"}],"mark":{"type":"text","align":"right","baseline":"middle","font":"DejaVu Sans","fontWeight":"bold","fontSize":8.5,"color":"#111"},"encoding":{"x":{"field":"c","type":"quantitative"},"y":{"field":"r","type":"quantitative"},"text":{"field":"text"}}}
   ]},
   {"width":539,"height":36,"layer":[
    {"data":{"values":[{}]},"mark":{"type":"rect","fill":"#fff","stroke":"#a8a8a8","strokeWidth":1,"cornerRadius":2},"encoding":{"x":{"datum":0,"type":"quantitative","scale":{"domain":[0,539],"nice":false,"zero":false},"axis":null},"x2":{"datum":57},"y":{"datum":2,"type":"quantitative","scale":{"domain":[0,36],"reverse":true,"nice":false,"zero":false},"axis":null},"y2":{"datum":18}}},
    {"data":{"values":[{}]},"mark":{"type":"rect","fill":"#fff","stroke":"#a8a8a8","strokeWidth":1,"cornerRadius":2},"encoding":{"x":{"datum":58},"x2":{"datum":371},"y":{"datum":2},"y2":{"datum":18}}},
    {"data":{"values":[{}]},"mark":{"type":"rect","fill":"#3f7fd8"},"encoding":{"x":{"datum":424},"x2":{"datum":459},"y":{"datum":5},"y2":{"datum":11}}},
    {"data":{"values":[{}]},"mark":{"type":"rect","fill":"#666"},"encoding":{"x":{"datum":462},"x2":{"datum":468},"y":{"datum":6},"y2":{"datum":11}}},
    {"data":{"name":"ts"},"transform":[{"filter":"datum.p == 1"}],"mark":{"type":"text","align":"left","baseline":"middle","font":"DejaVu Sans","fontWeight":"bold","fontSize":7,"color":"#222"},"encoding":{"x":{"datum":0},"y":{"datum":32},"text":{"field":"text"}}}
   ]}
  ]},
  {"width":30,"height":442,"data":{"values":[{}]},"mark":{"type":"rule","color":"#000","strokeWidth":0},"encoding":{"x":{"datum":1,"type":"quantitative","scale":{"domain":[0,1]},"axis":null}}}
 ]}
]},
{"spacing":0,"vconcat":[
 {"width":618,"height":36,"view":{"fill":"#d9d9d9","stroke":"#000","strokeWidth":2},"data":{"values":[{"t":"Band4-1413"}]},"mark":{"type":"text","fontSize":22,"color":"#111","baseline":"middle","align":"center"},"encoding":{"text":{"field":"t","type":"nominal"}}},
 {"spacing":0,"hconcat":[
  {"width":41,"height":442,"data":{"values":[{}]},"mark":{"type":"rule","color":"#000","strokeWidth":2},"encoding":{"x":{"datum":0,"type":"quantitative","scale":{"domain":[0,1]},"axis":null}}},
  {"spacing":0,"bounds":"flush","vconcat":[
   {"width":539,"height":52,"layer":[
    {"data":{"values":[{}]},"mark":{"type":"rule","color":"#a0a0a0","strokeWidth":1},"encoding":{"x":{"datum":0,"type":"quantitative","scale":{"domain":[0,1,2,3,4,5,6,7,8,9,10,11],"range":[0,5,70,76,84,104,130,150,183,203,479,539],"nice":false,"zero":false},"axis":null},"x2":{"datum":11},"y":{"datum":0.53,"type":"quantitative","scale":{"domain":[-1,0,1,2,3],"range":[0,20,35,44,52],"nice":false,"zero":false},"axis":null}}},
    {"data":{"values":[{}]},"mark":{"type":"rect","fill":"#bcbcbc","cornerRadiusTopLeft":3,"cornerRadiusTopRight":3},"encoding":{"x":{"datum":0},"x2":{"datum":1.83},"y":{"datum":-0.57},"y2":{"datum":0.4}}},
    {"data":{"values":[{"t":"MultiView"}]},"mark":{"type":"text","color":"#e6e6e6","fontSize":7,"fontWeight":"bold","baseline":"middle"},"encoding":{"x":{"datum":1.3},"y":{"datum":-0.05},"text":{"field":"t"}}},
    {"data":{"values":[{}]},"mark":{"type":"rect","fill":"#fff","stroke":"#9a9a9a","strokeWidth":1,"cornerRadiusTopLeft":2,"cornerRadiusTopRight":6},"encoding":{"x":{"datum":1.86},"x2":{"datum":6.0},"y":{"datum":-0.57},"y2":{"datum":0.53}}},
    {"data":{"values":[{"t":"Spectrum"}]},"mark":{"type":"text","align":"left","baseline":"middle","fontSize":8,"fontWeight":"bold","color":"#222"},"encoding":{"x":{"datum":1.91},"y":{"datum":0},"text":{"field":"t"}}},
    {"data":{"name":"set"},"transform":[{"filter":"(datum.p == 0 || datum.p == 2) && datum.kind == 'label'"}],"mark":{"type":"text","align":"left","baseline":"middle","fontSize":6.3,"fontWeight":"bold","color":"#333"},"encoding":{"x":{"field":"slot","type":"quantitative"},"y":{"field":"row","type":"quantitative"},"text":{"field":"text"}}},
    {"data":{"name":"set"},"transform":[{"filter":"(datum.p == 0 || datum.p == 2) && datum.kind == 'value' && datum.slot != 2"}],"mark":{"type":"text","align":"left","baseline":"middle","fontSize":5.8,"color":"#8a8a8a"},"encoding":{"x":{"field":"slot","type":"quantitative"},"y":{"field":"row","type":"quantitative"},"text":{"field":"text"}}},
    {"data":{"name":"set"},"transform":[{"filter":"(datum.p == 0 || datum.p == 2) && datum.kind == 'value' && datum.slot == 2"}],"mark":{"type":"text","align":"right","baseline":"middle","fontSize":5.8,"color":"#8a8a8a"},"encoding":{"x":{"field":"slot","type":"quantitative"},"y":{"field":"row","type":"quantitative"},"text":{"field":"text"}}},
    {"data":{"name":"set"},"transform":[{"filter":"(datum.p == 0 || datum.p == 2) && datum.kind == 'dot'"}],"mark":{"type":"text","align":"left","baseline":"middle","fontSize":4.5,"color":"#9fb0c0","dx":-4.5},"encoding":{"x":{"field":"slot","type":"quantitative"},"y":{"field":"row","type":"quantitative"},"text":{"field":"text"}}}
   ]},
   {"width":539,"height":8,"view":{"fill":"#000"},"data":{"values":[{"l":"1 Occupied Bandwidth","r":"●1Av MaxPwr"}]},"layer":[
    {"mark":{"type":"text","align":"left","baseline":"middle","fontSize":8,"color":"#fff","dx":1},"encoding":{"x":{"datum":0,"type":"quantitative","scale":{"domain":[0,1]},"axis":null},"text":{"field":"l"}}},
    {"mark":{"type":"text","align":"right","baseline":"middle","fontSize":7,"color":"#ddd","dx":-3},"encoding":{"x":{"datum":1},"text":{"field":"r"}}}
   ]},
   {"width":539,"height":260,"view":{"stroke":"#555","strokeWidth":1},"resolve":{"scale":{"y":"independent"}},"layer":[
    {"layer":[
     {"data":{"name":"xd"},"transform":[{"filter":"abs(datum.d) != 1"}],"mark":{"type":"rule","color":"#666","strokeWidth":1},"encoding":{"x":{"field":"d","type":"quantitative","scale":{"domain":[-5,5],"nice":false,"zero":false},"axis":null}}},
     {"data":{"name":"xd"},"transform":[{"filter":"abs(datum.d) == 1"}],"mark":{"type":"rule","color":"#d4d4d4","strokeWidth":1},"encoding":{"x":{"field":"d","type":"quantitative"}}},
     {"data":{"name":"lv"},"mark":{"type":"rule","color":"#666","strokeWidth":1},"encoding":{"y":{"field":"lvl","type":"quantitative","scale":{"domain":[-70,30],"nice":false,"zero":false},"axis":null},"x":{"datum":-4.64},"x2":{"datum":5}}},
     {"data":{"name":"lv"},"mark":{"type":"text","align":"left","baseline":"middle","dx":2,"fontSize":6,"color":"#777"},"encoding":{"x":{"datum":-5},"y":{"field":"lvl","type":"quantitative"},"text":{"field":"label"}}},
     {"data":{"name":"h1"},"transform":[{"filter":"datum.p == 2"}],"mark":{"type":"rule","color":"#d07070","strokeWidth":1},"encoding":{"y":{"field":"level","type":"quantitative"},"x":{"datum":-4.2},"x2":{"datum":-3.95}}},
     {"data":{"name":"h1"},"transform":[{"filter":"datum.p == 2"}],"mark":{"type":"rule","color":"#d07070","strokeWidth":1},"encoding":{"y":{"field":"level","type":"quantitative"},"x":{"datum":-3.12},"x2":{"datum":5}}},
     {"data":{"name":"h1"},"transform":[{"filter":"datum.p == 2"}],"mark":{"type":"text","align":"left","baseline":"middle","fontSize":5.5,"color":"#999"},"encoding":{"y":{"field":"level","type":"quantitative"},"x":{"datum":-3.93},"text":{"field":"label"}}},
     {"data":{"name":"trace"},"transform":[{"filter":"datum.p == 2"}],"mark":{"type":"line","color":"#3a3a3a","strokeWidth":0.9},"encoding":{"x":{"field":"f","type":"quantitative"},"y":{"field":"v","type":"quantitative"}}},
     {"data":{"name":"mk"},"transform":[{"filter":"datum.p == 2"}],"mark":{"type":"point","shape":"triangle-down","size":10,"filled":true,"color":"#555"},"encoding":{"x":{"field":"f","type":"quantitative"},"y":{"field":"v","type":"quantitative"}}},
     {"data":{"name":"mk"},"transform":[{"filter":"datum.p == 2"}],"mark":{"type":"text","dy":-8,"fontSize":5.5,"color":"#888"},"encoding":{"x":{"field":"f","type":"quantitative"},"y":{"field":"v","type":"quantitative"},"text":{"field":"m"}}},
     {"data":{"values":[{}]},"mark":{"type":"rect","fill":"#fff"},"encoding":{"x":{"datum":3.3},"x2":{"datum":5},"y":{"datum":29.7},"y2":{"datum":14.3}}}
    ]},
    {"data":{"name":"info"},"transform":[{"filter":"datum.p == 2"}],"layer":[
     {"mark":{"type":"text","align":"left","baseline":"middle","fontSize":7.5,"color":"#35a9a9"},"encoding":{"x":{"datum":3.33},"y":{"field":"line","type":"quantitative","scale":{"domain":[0.4,27.4],"reverse":true,"nice":false,"zero":false},"axis":null},"text":{"field":"name"}}},
     {"mark":{"type":"text","align":"right","baseline":"middle","dx":-1,"fontSize":7.5,"color":"#35a9a9"},"encoding":{"x":{"datum":5},"y":{"field":"line","type":"quantitative"},"text":{"field":"val"}}}
    ]}
   ]},
   {"width":539,"height":11,"data":{"name":"foot"},"transform":[{"filter":"datum.p == 0 || datum.p == 2"}],"encoding":{"x":{"field":"slot","type":"quantitative","scale":{"domain":[1,2,3,4],"range":[1,201,350,538],"nice":false,"zero":false},"axis":null},"text":{"field":"text"}},"layer":[
    {"transform":[{"filter":"datum.slot == 1"}],"mark":{"type":"text","align":"left","baseline":"middle","font":"Liberation Serif","fontSize":8,"color":"#333"}},
    {"transform":[{"filter":"datum.slot == 2 || datum.slot == 3"}],"mark":{"type":"text","align":"center","baseline":"middle","font":"Liberation Serif","fontSize":8,"color":"#333"}},
    {"transform":[{"filter":"datum.slot == 4"}],"mark":{"type":"text","align":"right","baseline":"middle","font":"Liberation Serif","fontSize":8,"color":"#333"}}
   ]},
   {"width":539,"height":75,"view":{"stroke":"#8a8a8a","strokeWidth":1},"layer":[
    {"data":{"values":[{}]},"mark":{"type":"rect","fill":"#e3e3e3"},"encoding":{"x":{"datum":0,"type":"quantitative","scale":{"domain":[0,1,2,3,4,5,6,7,8],"range":[0,17,39,72,174,263,285,513,539],"nice":false,"zero":false},"axis":null},"x2":{"datum":8},"y":{"datum":-0.62,"type":"quantitative","scale":{"domain":[-2,6.1],"range":[0,75],"nice":false,"zero":false},"axis":null},"y2":{"datum":0.62}}},
    {"data":{"values":[{}]},"mark":{"type":"rule","color":"#777","strokeWidth":1},"encoding":{"x":{"datum":0},"x2":{"datum":8},"y":{"datum":3.52}}},
    {"data":{"values":[{}]},"mark":{"type":"rule","color":"#333","strokeWidth":2},"encoding":{"x":{"datum":0},"x2":{"datum":8},"y":{"datum":6.0}}},
    {"data":{"name":"tbl"},"transform":[{"filter":"datum.r == -1"}],"mark":{"type":"text","align":"left","baseline":"middle","dx":1,"fontSize":7,"color":"#222"},"encoding":{"x":{"field":"c","type":"quantitative"},"y":{"field":"r","type":"quantitative"},"text":{"field":"text"}}},
    {"data":{"name":"tbl"},"transform":[{"filter":"datum.r == 0 && datum.c == 1"}],"mark":{"type":"text","align":"center","baseline":"middle","dx":-7,"fontSize":7.5,"color":"#333"},"encoding":{"x":{"field":"c","type":"quantitative"},"y":{"field":"r","type":"quantitative"},"text":{"field":"text"}}},
    {"data":{"name":"tbl"},"transform":[{"filter":"datum.r == 0 && (datum.c == 2 || datum.c == 3)"}],"mark":{"type":"text","align":"center","baseline":"middle","dx":-2,"fontSize":7.5,"color":"#333"},"encoding":{"x":{"field":"c","type":"quantitative"},"y":{"field":"r","type":"quantitative"},"text":{"field":"text"}}},
    {"data":{"name":"tbl"},"transform":[{"filter":"datum.r == 0 && (datum.c == 4 || datum.c == 5)"}],"mark":{"type":"text","align":"center","baseline":"middle","dx":-15,"fontSize":7.5,"color":"#333"},"encoding":{"x":{"field":"c","type":"quantitative"},"y":{"field":"r","type":"quantitative"},"text":{"field":"text"}}},
    {"data":{"name":"tbl"},"transform":[{"filter":"datum.r == 0 && datum.c == 6"}],"mark":{"type":"text","align":"center","baseline":"middle","dx":60,"fontSize":7.5,"color":"#333"},"encoding":{"x":{"field":"c","type":"quantitative"},"y":{"field":"r","type":"quantitative"},"text":{"field":"text"}}},
    {"data":{"name":"tbl"},"transform":[{"filter":"datum.r == 0 && datum.c == 7"}],"mark":{"type":"text","align":"center","baseline":"middle","dx":-40,"fontSize":7.5,"color":"#333"},"encoding":{"x":{"field":"c","type":"quantitative"},"y":{"field":"r","type":"quantitative"},"text":{"field":"text"}}},
    {"data":{"name":"tbl"},"transform":[{"filter":"datum.p == 2 && datum.r >= 1 && datum.c <= 3"}],"mark":{"type":"text","align":"center","baseline":"middle","fontSize":6.5,"color":"#8a8a8a"},"encoding":{"x":{"field":"c","type":"quantitative"},"y":{"field":"r","type":"quantitative"},"text":{"field":"text"}}},
    {"data":{"name":"tbl"},"transform":[{"filter":"datum.p == 2 && datum.r >= 1 && datum.c == 6"}],"mark":{"type":"text","align":"left","baseline":"middle","fontSize":6.5,"color":"#8a8a8a"},"encoding":{"x":{"field":"c","type":"quantitative"},"y":{"field":"r","type":"quantitative"},"text":{"field":"text"}}},
    {"data":{"name":"tbl"},"transform":[{"filter":"datum.p == 2 && (datum.r == 2 || datum.r == 3) && (datum.c == 4 || datum.c == 5 || datum.c == 7)"}],"mark":{"type":"text","align":"right","baseline":"middle","fontSize":6.5,"color":"#8a8a8a"},"encoding":{"x":{"field":"c","type":"quantitative"},"y":{"field":"r","type":"quantitative"},"text":{"field":"text"}}},
    {"data":{"name":"tbl"},"transform":[{"filter":"datum.p == 2 && ((datum.r == 1 && (datum.c == 4 || datum.c == 5 || datum.c == 7)) || ((datum.r == 4 || datum.r == 5) && (datum.c == 4 || datum.c == 5)))"}],"mark":{"type":"text","align":"right","baseline":"middle","font":"DejaVu Sans","fontWeight":"bold","fontSize":8.5,"color":"#111"},"encoding":{"x":{"field":"c","type":"quantitative"},"y":{"field":"r","type":"quantitative"},"text":{"field":"text"}}}
   ]},
   {"width":539,"height":36,"layer":[
    {"data":{"values":[{}]},"mark":{"type":"rect","fill":"#fff","stroke":"#a8a8a8","strokeWidth":1,"cornerRadius":2},"encoding":{"x":{"datum":0,"type":"quantitative","scale":{"domain":[0,539],"nice":false,"zero":false},"axis":null},"x2":{"datum":57},"y":{"datum":2,"type":"quantitative","scale":{"domain":[0,36],"reverse":true,"nice":false,"zero":false},"axis":null},"y2":{"datum":18}}},
    {"data":{"values":[{}]},"mark":{"type":"rect","fill":"#fff","stroke":"#a8a8a8","strokeWidth":1,"cornerRadius":2},"encoding":{"x":{"datum":58},"x2":{"datum":371},"y":{"datum":2},"y2":{"datum":18}}},
    {"data":{"values":[{}]},"mark":{"type":"rect","fill":"#3f7fd8"},"encoding":{"x":{"datum":424},"x2":{"datum":459},"y":{"datum":5},"y2":{"datum":11}}},
    {"data":{"values":[{}]},"mark":{"type":"rect","fill":"#666"},"encoding":{"x":{"datum":462},"x2":{"datum":468},"y":{"datum":6},"y2":{"datum":11}}},
    {"data":{"name":"ts"},"transform":[{"filter":"datum.p == 2"}],"mark":{"type":"text","align":"left","baseline":"middle","font":"DejaVu Sans","fontWeight":"bold","fontSize":7,"color":"#222"},"encoding":{"x":{"datum":0},"y":{"datum":32},"text":{"field":"text"}}}
   ]}
  ]},
  {"width":34,"height":442,"data":{"values":[{}]},"mark":{"type":"rule","color":"#000","strokeWidth":2},"encoding":{"x":{"datum":1,"type":"quantitative","scale":{"domain":[0,1]},"axis":null}}}
 ]}
]}
]},
{"spacing":0,"hconcat":[
{"spacing":0,"vconcat":[
 {"width":621,"height":40,"view":{"fill":"#d9d9d9","stroke":"#000","strokeWidth":2},"data":{"values":[{"t":"Band5-4182"}]},"mark":{"type":"text","fontSize":22,"color":"#111","baseline":"middle","align":"center"},"encoding":{"text":{"field":"t","type":"nominal"}}},
 {"spacing":0,"hconcat":[
  {"width":39,"height":451,"data":{"values":[{}]},"mark":{"type":"rule","color":"#000","strokeWidth":2},"encoding":{"x":{"datum":0,"type":"quantitative","scale":{"domain":[0,1]},"axis":null}}},
  {"spacing":0,"bounds":"flush","vconcat":[
   {"width":539,"height":52,"layer":[
    {"data":{"values":[{}]},"mark":{"type":"rule","color":"#a0a0a0","strokeWidth":1},"encoding":{"x":{"datum":0,"type":"quantitative","scale":{"domain":[0,1,2,3,4,5,6,7,8,9,10,11],"range":[0,5,70,76,84,104,130,150,183,203,479,539],"nice":false,"zero":false},"axis":null},"x2":{"datum":11},"y":{"datum":0.53,"type":"quantitative","scale":{"domain":[-1,0,1,2,3],"range":[0,20,35,44,52],"nice":false,"zero":false},"axis":null}}},
    {"data":{"values":[{}]},"mark":{"type":"rect","fill":"#bcbcbc","cornerRadiusTopLeft":3,"cornerRadiusTopRight":3},"encoding":{"x":{"datum":0},"x2":{"datum":1.83},"y":{"datum":-0.57},"y2":{"datum":0.4}}},
    {"data":{"values":[{"t":"MultiView"}]},"mark":{"type":"text","color":"#e6e6e6","fontSize":7,"fontWeight":"bold","baseline":"middle"},"encoding":{"x":{"datum":1.3},"y":{"datum":-0.05},"text":{"field":"t"}}},
    {"data":{"values":[{}]},"mark":{"type":"rect","fill":"#fff","stroke":"#9a9a9a","strokeWidth":1,"cornerRadiusTopLeft":2,"cornerRadiusTopRight":6},"encoding":{"x":{"datum":1.86},"x2":{"datum":6.0},"y":{"datum":-0.57},"y2":{"datum":0.53}}},
    {"data":{"values":[{"t":"Spectrum"}]},"mark":{"type":"text","align":"left","baseline":"middle","fontSize":8,"fontWeight":"bold","color":"#222"},"encoding":{"x":{"datum":1.91},"y":{"datum":0},"text":{"field":"t"}}},
    {"data":{"name":"set"},"transform":[{"filter":"(datum.p == 0 || datum.p == 3) && datum.kind == 'label'"}],"mark":{"type":"text","align":"left","baseline":"middle","fontSize":6.3,"fontWeight":"bold","color":"#333"},"encoding":{"x":{"field":"slot","type":"quantitative"},"y":{"field":"row","type":"quantitative"},"text":{"field":"text"}}},
    {"data":{"name":"set"},"transform":[{"filter":"(datum.p == 0 || datum.p == 3) && datum.kind == 'value' && datum.slot != 2"}],"mark":{"type":"text","align":"left","baseline":"middle","fontSize":5.8,"color":"#8a8a8a"},"encoding":{"x":{"field":"slot","type":"quantitative"},"y":{"field":"row","type":"quantitative"},"text":{"field":"text"}}},
    {"data":{"name":"set"},"transform":[{"filter":"(datum.p == 0 || datum.p == 3) && datum.kind == 'value' && datum.slot == 2"}],"mark":{"type":"text","align":"right","baseline":"middle","fontSize":5.8,"color":"#8a8a8a"},"encoding":{"x":{"field":"slot","type":"quantitative"},"y":{"field":"row","type":"quantitative"},"text":{"field":"text"}}},
    {"data":{"name":"set"},"transform":[{"filter":"(datum.p == 0 || datum.p == 3) && datum.kind == 'dot'"}],"mark":{"type":"text","align":"left","baseline":"middle","fontSize":4.5,"color":"#9fb0c0","dx":-4.5},"encoding":{"x":{"field":"slot","type":"quantitative"},"y":{"field":"row","type":"quantitative"},"text":{"field":"text"}}}
   ]},
   {"width":539,"height":8,"view":{"fill":"#000"},"data":{"values":[{"l":"1 Occupied Bandwidth","r":"●1Av MaxPwr"}]},"layer":[
    {"mark":{"type":"text","align":"left","baseline":"middle","fontSize":8,"color":"#fff","dx":1},"encoding":{"x":{"datum":0,"type":"quantitative","scale":{"domain":[0,1]},"axis":null},"text":{"field":"l"}}},
    {"mark":{"type":"text","align":"right","baseline":"middle","fontSize":7,"color":"#ddd","dx":-3},"encoding":{"x":{"datum":1},"text":{"field":"r"}}}
   ]},
   {"width":539,"height":260,"view":{"stroke":"#555","strokeWidth":1},"resolve":{"scale":{"y":"independent"}},"layer":[
    {"layer":[
     {"data":{"name":"xd"},"transform":[{"filter":"abs(datum.d) != 1"}],"mark":{"type":"rule","color":"#666","strokeWidth":1},"encoding":{"x":{"field":"d","type":"quantitative","scale":{"domain":[-5,5],"nice":false,"zero":false},"axis":null}}},
     {"data":{"name":"xd"},"transform":[{"filter":"abs(datum.d) == 1"}],"mark":{"type":"rule","color":"#d4d4d4","strokeWidth":1},"encoding":{"x":{"field":"d","type":"quantitative"}}},
     {"data":{"name":"lv"},"mark":{"type":"rule","color":"#666","strokeWidth":1},"encoding":{"y":{"field":"lvl","type":"quantitative","scale":{"domain":[-70,30],"nice":false,"zero":false},"axis":null},"x":{"datum":-4.64},"x2":{"datum":5}}},
     {"data":{"name":"lv"},"mark":{"type":"text","align":"left","baseline":"middle","dx":2,"fontSize":6,"color":"#777"},"encoding":{"x":{"datum":-5},"y":{"field":"lvl","type":"quantitative"},"text":{"field":"label"}}},
     {"data":{"name":"h1"},"transform":[{"filter":"datum.p == 3"}],"mark":{"type":"rule","color":"#c77a7a","strokeWidth":1},"encoding":{"y":{"field":"level","type":"quantitative"},"x":{"datum":-4.2},"x2":{"datum":-3.95}}},
     {"data":{"name":"h1"},"transform":[{"filter":"datum.p == 3"}],"mark":{"type":"rule","color":"#c77a7a","strokeWidth":1},"encoding":{"y":{"field":"level","type":"quantitative"},"x":{"datum":-3.12},"x2":{"datum":5}}},
     {"data":{"name":"h1"},"transform":[{"filter":"datum.p == 3"}],"mark":{"type":"text","align":"left","baseline":"middle","fontSize":5.5,"color":"#999"},"encoding":{"y":{"field":"level","type":"quantitative"},"x":{"datum":-3.93},"text":{"field":"label"}}},
     {"data":{"name":"trace"},"transform":[{"filter":"datum.p == 3"}],"mark":{"type":"line","color":"#3a3a3a","strokeWidth":0.9},"encoding":{"x":{"field":"f","type":"quantitative"},"y":{"field":"v","type":"quantitative"}}},
     {"data":{"name":"mk"},"transform":[{"filter":"datum.p == 3"}],"mark":{"type":"point","shape":"triangle-down","size":10,"filled":true,"color":"#555"},"encoding":{"x":{"field":"f","type":"quantitative"},"y":{"field":"v","type":"quantitative"}}},
     {"data":{"name":"mk"},"transform":[{"filter":"datum.p == 3"}],"mark":{"type":"text","dy":-8,"fontSize":5.5,"color":"#888"},"encoding":{"x":{"field":"f","type":"quantitative"},"y":{"field":"v","type":"quantitative"},"text":{"field":"m"}}},
     {"data":{"values":[{}]},"mark":{"type":"rect","fill":"#fff"},"encoding":{"x":{"datum":3.3},"x2":{"datum":5},"y":{"datum":29.7},"y2":{"datum":14.3}}}
    ]},
    {"data":{"name":"info"},"transform":[{"filter":"datum.p == 3"}],"layer":[
     {"mark":{"type":"text","align":"left","baseline":"middle","fontSize":7.5,"color":"#35a9a9"},"encoding":{"x":{"datum":3.33},"y":{"field":"line","type":"quantitative","scale":{"domain":[0.4,27.4],"reverse":true,"nice":false,"zero":false},"axis":null},"text":{"field":"name"}}},
     {"mark":{"type":"text","align":"right","baseline":"middle","dx":-1,"fontSize":7.5,"color":"#35a9a9"},"encoding":{"x":{"datum":5},"y":{"field":"line","type":"quantitative"},"text":{"field":"val"}}}
    ]}
   ]},
   {"width":539,"height":11,"data":{"name":"foot"},"transform":[{"filter":"datum.p == 0 || datum.p == 3"}],"encoding":{"x":{"field":"slot","type":"quantitative","scale":{"domain":[1,2,3,4],"range":[1,201,350,538],"nice":false,"zero":false},"axis":null},"text":{"field":"text"}},"layer":[
    {"transform":[{"filter":"datum.slot == 1"}],"mark":{"type":"text","align":"left","baseline":"middle","font":"Liberation Serif","fontSize":8,"color":"#333"}},
    {"transform":[{"filter":"datum.slot == 2 || datum.slot == 3"}],"mark":{"type":"text","align":"center","baseline":"middle","font":"Liberation Serif","fontSize":8,"color":"#333"}},
    {"transform":[{"filter":"datum.slot == 4"}],"mark":{"type":"text","align":"right","baseline":"middle","font":"Liberation Serif","fontSize":8,"color":"#333"}}
   ]},
   {"width":539,"height":75,"view":{"stroke":"#8a8a8a","strokeWidth":1},"layer":[
    {"data":{"values":[{}]},"mark":{"type":"rect","fill":"#e3e3e3"},"encoding":{"x":{"datum":0,"type":"quantitative","scale":{"domain":[0,1,2,3,4,5,6,7,8],"range":[0,17,39,72,174,263,285,513,539],"nice":false,"zero":false},"axis":null},"x2":{"datum":8},"y":{"datum":-0.62,"type":"quantitative","scale":{"domain":[-2,6.1],"range":[0,75],"nice":false,"zero":false},"axis":null},"y2":{"datum":0.62}}},
    {"data":{"values":[{}]},"mark":{"type":"rule","color":"#777","strokeWidth":1},"encoding":{"x":{"datum":0},"x2":{"datum":8},"y":{"datum":3.52}}},
    {"data":{"values":[{}]},"mark":{"type":"rule","color":"#333","strokeWidth":2},"encoding":{"x":{"datum":0},"x2":{"datum":8},"y":{"datum":6.0}}},
    {"data":{"name":"tbl"},"transform":[{"filter":"datum.r == -1"}],"mark":{"type":"text","align":"left","baseline":"middle","dx":1,"fontSize":7,"color":"#222"},"encoding":{"x":{"field":"c","type":"quantitative"},"y":{"field":"r","type":"quantitative"},"text":{"field":"text"}}},
    {"data":{"name":"tbl"},"transform":[{"filter":"datum.r == 0 && datum.c == 1"}],"mark":{"type":"text","align":"center","baseline":"middle","dx":-7,"fontSize":7.5,"color":"#333"},"encoding":{"x":{"field":"c","type":"quantitative"},"y":{"field":"r","type":"quantitative"},"text":{"field":"text"}}},
    {"data":{"name":"tbl"},"transform":[{"filter":"datum.r == 0 && (datum.c == 2 || datum.c == 3)"}],"mark":{"type":"text","align":"center","baseline":"middle","dx":-2,"fontSize":7.5,"color":"#333"},"encoding":{"x":{"field":"c","type":"quantitative"},"y":{"field":"r","type":"quantitative"},"text":{"field":"text"}}},
    {"data":{"name":"tbl"},"transform":[{"filter":"datum.r == 0 && (datum.c == 4 || datum.c == 5)"}],"mark":{"type":"text","align":"center","baseline":"middle","dx":-15,"fontSize":7.5,"color":"#333"},"encoding":{"x":{"field":"c","type":"quantitative"},"y":{"field":"r","type":"quantitative"},"text":{"field":"text"}}},
    {"data":{"name":"tbl"},"transform":[{"filter":"datum.r == 0 && datum.c == 6"}],"mark":{"type":"text","align":"center","baseline":"middle","dx":60,"fontSize":7.5,"color":"#333"},"encoding":{"x":{"field":"c","type":"quantitative"},"y":{"field":"r","type":"quantitative"},"text":{"field":"text"}}},
    {"data":{"name":"tbl"},"transform":[{"filter":"datum.r == 0 && datum.c == 7"}],"mark":{"type":"text","align":"center","baseline":"middle","dx":-40,"fontSize":7.5,"color":"#333"},"encoding":{"x":{"field":"c","type":"quantitative"},"y":{"field":"r","type":"quantitative"},"text":{"field":"text"}}},
    {"data":{"name":"tbl"},"transform":[{"filter":"datum.p == 3 && datum.r >= 1 && datum.c <= 3"}],"mark":{"type":"text","align":"center","baseline":"middle","fontSize":6.5,"color":"#8a8a8a"},"encoding":{"x":{"field":"c","type":"quantitative"},"y":{"field":"r","type":"quantitative"},"text":{"field":"text"}}},
    {"data":{"name":"tbl"},"transform":[{"filter":"datum.p == 3 && datum.r >= 1 && datum.c == 6"}],"mark":{"type":"text","align":"left","baseline":"middle","fontSize":6.5,"color":"#8a8a8a"},"encoding":{"x":{"field":"c","type":"quantitative"},"y":{"field":"r","type":"quantitative"},"text":{"field":"text"}}},
    {"data":{"name":"tbl"},"transform":[{"filter":"datum.p == 3 && (datum.r == 2 || datum.r == 3) && (datum.c == 4 || datum.c == 5 || datum.c == 7)"}],"mark":{"type":"text","align":"right","baseline":"middle","fontSize":6.5,"color":"#8a8a8a"},"encoding":{"x":{"field":"c","type":"quantitative"},"y":{"field":"r","type":"quantitative"},"text":{"field":"text"}}},
    {"data":{"name":"tbl"},"transform":[{"filter":"datum.p == 3 && ((datum.r == 1 && (datum.c == 4 || datum.c == 5 || datum.c == 7)) || ((datum.r == 4 || datum.r == 5) && (datum.c == 4 || datum.c == 5)))"}],"mark":{"type":"text","align":"right","baseline":"middle","font":"DejaVu Sans","fontWeight":"bold","fontSize":8.5,"color":"#111"},"encoding":{"x":{"field":"c","type":"quantitative"},"y":{"field":"r","type":"quantitative"},"text":{"field":"text"}}}
   ]},
   {"width":539,"height":45,"layer":[
    {"data":{"values":[{}]},"mark":{"type":"rect","fill":"#fff","stroke":"#a8a8a8","strokeWidth":1,"cornerRadius":2},"encoding":{"x":{"datum":0,"type":"quantitative","scale":{"domain":[0,539],"nice":false,"zero":false},"axis":null},"x2":{"datum":57},"y":{"datum":2,"type":"quantitative","scale":{"domain":[0,45],"reverse":true,"nice":false,"zero":false},"axis":null},"y2":{"datum":18}}},
    {"data":{"values":[{}]},"mark":{"type":"rect","fill":"#fff","stroke":"#a8a8a8","strokeWidth":1,"cornerRadius":2},"encoding":{"x":{"datum":58},"x2":{"datum":371},"y":{"datum":2},"y2":{"datum":18}}},
    {"data":{"values":[{}]},"mark":{"type":"rect","fill":"#3f7fd8"},"encoding":{"x":{"datum":424},"x2":{"datum":459},"y":{"datum":5},"y2":{"datum":11}}},
    {"data":{"values":[{}]},"mark":{"type":"rect","fill":"#666"},"encoding":{"x":{"datum":462},"x2":{"datum":468},"y":{"datum":6},"y2":{"datum":11}}},
    {"data":{"name":"ts"},"transform":[{"filter":"datum.p == 3"}],"mark":{"type":"text","align":"left","baseline":"middle","font":"DejaVu Sans","fontWeight":"bold","fontSize":7,"color":"#222"},"encoding":{"x":{"datum":0},"y":{"datum":33},"text":{"field":"text"}}}
   ]}
  ]},
  {"width":30,"height":451,"data":{"values":[{}]},"mark":{"type":"rule","color":"#000","strokeWidth":0},"encoding":{"x":{"datum":1,"type":"quantitative","scale":{"domain":[0,1]},"axis":null}}}
 ]}
]},
{"spacing":0,"vconcat":[
 {"width":618,"height":40,"view":{"fill":"#d9d9d9","stroke":"#000","strokeWidth":2},"data":{"values":[{"t":""}]},"mark":{"type":"text","fontSize":22},"encoding":{"text":{"field":"t","type":"nominal"}}},
 {"width":618,"height":451,"data":{"values":[{"e":0},{"e":1}]},"mark":{"type":"rule","color":"#000","strokeWidth":2},"encoding":{"x":{"field":"e","type":"quantitative","scale":{"domain":[0,1]},"axis":null}}}
]}
]}
]
}
